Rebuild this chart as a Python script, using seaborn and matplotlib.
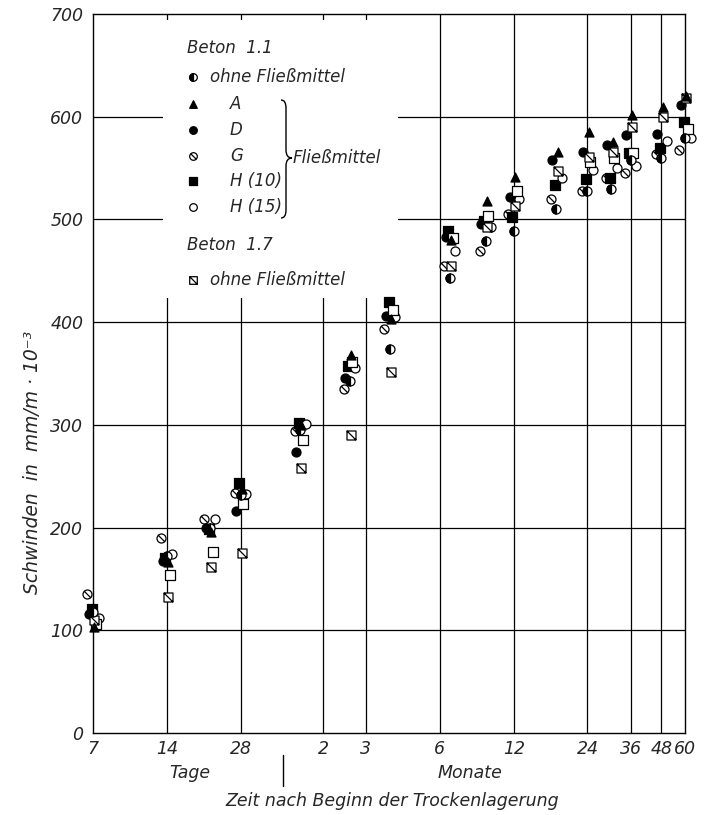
import numpy as np
import pandas as pd
import matplotlib
matplotlib.use("Agg")
import matplotlib.pyplot as plt
from matplotlib.path import Path
from matplotlib.patches import PathPatch, Rectangle
from matplotlib.lines import Line2D
from matplotlib.transforms import offset_copy
from matplotlib.ticker import NullLocator
import seaborn as sns

# Measurement times in days after start of dry storage
tage = [7, 14, 21, 28, 49, 78, 114, 200, 280, 365, 545, 730, 913, 1095, 1460, 1825]

# Shrinkage in mm/m * 10^-3
ohne_11 = [118, 172, 200, 232, 295, 343, 374, 443, 479, 489, 510, 528, 530, 558, 560, 579]
mittel_A = [103, 166, 196, 238, 300, 368, 403, 480, 518, 541, 566, 585, 575, 602, 609, 620]
mittel_D = [116, 167, 200, 216, 274, 346, 406, 483, 496, 522, 558, 566, 572, 582, 583, 611]
mittel_G = [135, 190, 208, 234, 294, 335, 393, 455, 469, 505, 520, 528, 540, 545, 564, 568]
mittel_H10 = [121, 170, 199, 243, 302, 357, 420, 489, 498, 502, 534, 539, 540, 565, 570, 595]
mittel_H15 = [112, 174, 208, 233, 301, 355, 405, 469, 493, 520, 540, 548, 550, 552, 576, 579]
quadrat_offen = [106, 154, 176, 223, 285, 361, 412, 482, 503, 528, np.nan, 556, 560, 565, np.nan, 588]
ohne_17 = [110, 132, 162, 175, 258, 290, 351, 455, 493, 513, 547, 561, 566, 590, 600, 618]

# Axis ticks
x_ticks = [7, 14, 28, 61, 91, 182, 365, 730, 1095, 1460, 1825]
x_labels = ["7", "14", "28", "2", "3", "6", "12", "24", "36", "48", "60"]
y_ticks = [0, 100, 200, 300, 400, 500, 600, 700]

sns.set_style("white")
plt.rcParams["font.family"] = ["DejaVu Sans"]
plt.rcParams["font.style"] = "italic"

# ---- marker shapes ----
circle = Path.unit_circle()
square = Path([(-1, -1), (1, -1), (1, 1), (-1, 1), (-1, -1)],
              [Path.MOVETO, Path.LINETO, Path.LINETO, Path.LINETO, Path.CLOSEPOLY])


def with_slash(base, a):
    verts = np.concatenate([base.vertices, [[-a, a], [a, -a]]])
    codes = np.concatenate([base.codes, [Path.MOVETO, Path.LINETO]])
    return Path(verts, codes)


circle_slash = with_slash(circle, 0.707)
square_slash = with_slash(square, 1.0)
half_disc = Path.wedge(90, 270)

fig = plt.figure(figsize=(7.04, 8.15), dpi=100)
ax = fig.add_axes([93 / 704, 1 - 733 / 815, 592 / 704, 719 / 815])
ax.set_xscale("log")

MS = 42
EW = 0.9

# series: values, marker, face colour, horizontal offset (pt)
series = [
    (mittel_G, circle_slash, "white", -4),
    (mittel_D, "o", "black", -3),
    (mittel_H10, square, "black", -1),
    (mittel_H15, circle, "white", 4),
    (quadrat_offen, square, "white", 2),
    (ohne_17, square_slash, "white", 1),
    (ohne_11, circle, "white", 0),
    (mittel_A, "^", "black", 1),
]

for vals, mk, fc, dx in series:
    df = pd.DataFrame({"tage": tage, "wert": vals}).dropna()
    tr = offset_copy(ax.transData, fig=fig, x=dx, y=0, units="points")
    sns.scatterplot(data=df, x="tage", y="wert", marker=mk, s=MS, color=fc,
                    edgecolor="black", linewidth=EW, transform=tr, clip_on=False,
                    zorder=3, legend=False, ax=ax)
    if vals is ohne_11:
        sns.scatterplot(data=df, x="tage", y="wert", marker=half_disc, s=MS,
                        color="black", edgecolor="black", linewidth=EW,
                        transform=tr, clip_on=False, zorder=3.1, legend=False, ax=ax)

ax.set_xlim(7, 1825)
ax.set_ylim(0, 700)
ax.set_xticks(x_ticks)
ax.set_xticklabels(x_labels)
ax.xaxis.set_minor_locator(NullLocator())
ax.set_yticks(y_ticks)
ax.set_yticklabels([str(v) for v in y_ticks])
ax.tick_params(length=0, labelsize=12.5)
ax.tick_params(axis="x", pad=5)
ax.tick_params(axis="y", pad=7)
ax.set_xlabel("")
ax.set_ylabel("")
for sp in ax.spines.values():
    sp.set_color("black")
    sp.set_linewidth(1.0)

# grid
for d in x_ticks[1:-1]:
    ax.axvline(d, color="black", lw=0.9, zorder=1)
for v in y_ticks[1:-1]:
    ax.axhline(v, color="black", lw=0.9, zorder=1)

# legend area
ax.add_patch(Rectangle((0.118, 0.605), 0.397, 0.387, transform=ax.transAxes,
                       facecolor="white", edgecolor="none", zorder=1.5))


def ax_x(px):
    return (px - 93) / 592


def ax_y(py):
    return (733 - py) / 719


FS = 12
ax.text(ax_x(187), ax_y(48), "Beton  1.1", transform=ax.transAxes, fontsize=FS,
        va="center", ha="left", zorder=5)
ax.text(ax_x(187), ax_y(245), "Beton  1.7", transform=ax.transAxes, fontsize=FS,
        va="center", ha="left", zorder=5)

legend_rows = [
    (77, circle, "white", "ohne Fließmittel", 210, True),
    (104, "^", "black", "A", 230, False),
    (130, "o", "black", "D", 230, False),
    (156, circle_slash, "white", "G", 230, False),
    (181, square, "black", "H (10)", 230, False),
    (207, circle, "white", "H (15)", 230, False),
    (280, square_slash, "white", "ohne Fließmittel", 210, False),
]
LMS = 30
for py, mk, fc, label, tx, half in legend_rows:
    ax.scatter([ax_x(193)], [ax_y(py)], marker=mk, s=LMS, color=fc, edgecolor="black",
               linewidth=EW, transform=ax.transAxes, clip_on=False, zorder=5)
    if half:
        ax.scatter([ax_x(193)], [ax_y(py)], marker=half_disc, s=LMS, color="black",
                   edgecolor="black", linewidth=EW, transform=ax.transAxes,
                   clip_on=False, zorder=5.1)
    ax.text(ax_x(tx), ax_y(py), label, transform=ax.transAxes, fontsize=FS,
            va="center", ha="left", zorder=5)

# brace grouping the admixtures
bp = [(281, 100), (286, 100), (286, 108), (286, 150), (286, 158), (292, 158),
      (286, 158), (286, 166), (286, 210), (286, 218), (281, 218)]
bc = [Path.MOVETO, Path.CURVE3, Path.CURVE3, Path.LINETO, Path.CURVE3, Path.CURVE3,
      Path.CURVE3, Path.CURVE3, Path.LINETO, Path.CURVE3, Path.CURVE3]
brace = Path([(ax_x(x), ax_y(y)) for x, y in bp], bc)
ax.add_patch(PathPatch(brace, transform=ax.transAxes, fill=False, lw=1.0,
                       edgecolor="black", zorder=5, clip_on=False))
ax.text(ax_x(293), ax_y(158), "Fließmittel", transform=ax.transAxes, fontsize=FS,
        va="center", ha="left", zorder=5)

# axis titles
fig.text(190 / 704, 1 - 773 / 815, "Tage", fontsize=12.5, ha="center", va="center")
fig.text(470 / 704, 1 - 773 / 815, "Monate", fontsize=12.5, ha="center", va="center")
fig.add_artist(Line2D([283 / 704, 283 / 704], [1 - 755 / 815, 1 - 786 / 815],
                      color="black", lw=1.0))
fig.text(392 / 704, 1 - 801 / 815, "Zeit nach Beginn der Trockenlagerung",
         fontsize=12.5, ha="center", va="center")
fig.text(33 / 704, 1 - 462 / 815, "Schwinden  in  mm/m · 10⁻³", fontsize=13.5,
         rotation=90, ha="center", va="center")

fig.savefig("out.png", dpi=100, facecolor="white")
